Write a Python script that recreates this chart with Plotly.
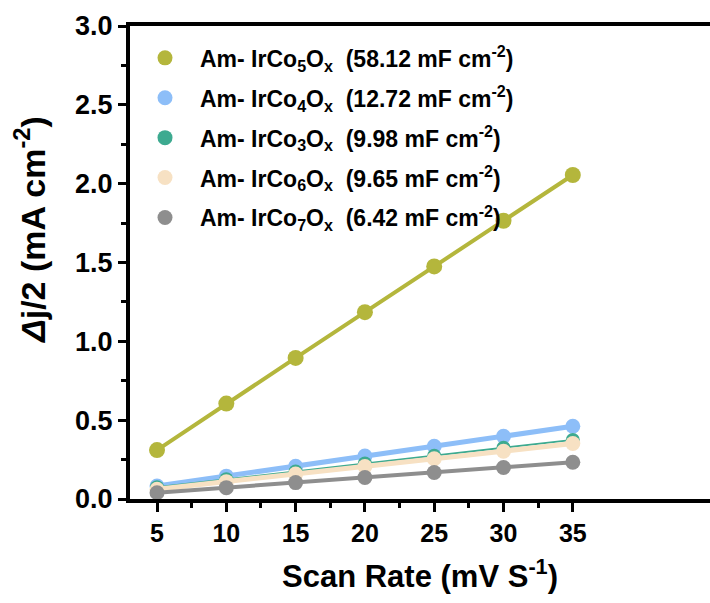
import plotly.graph_objects as go

# Scan rates (mV/s)
scan_rate = [5, 10, 15, 20, 25, 30, 35]

# Half of the capacitive current density difference (mA cm^-2)
irco5 = [0.31, 0.605, 0.895, 1.185, 1.475, 1.765, 2.055]
irco4 = [0.082, 0.145, 0.208, 0.272, 0.335, 0.398, 0.461]
irco3 = [0.075, 0.125, 0.175, 0.225, 0.275, 0.325, 0.375]
irco6 = [0.062, 0.110, 0.158, 0.206, 0.255, 0.303, 0.352]
irco7 = [0.040, 0.072, 0.104, 0.136, 0.168, 0.200, 0.233]

names = [
    "Am- IrCo<sub>5</sub>O<sub>x</sub>  (58.12 mF cm<sup>-2</sup>)",
    "Am- IrCo<sub>4</sub>O<sub>x</sub>  (12.72 mF cm<sup>-2</sup>)",
    "Am- IrCo<sub>3</sub>O<sub>x</sub>  (9.98 mF cm<sup>-2</sup>)",
    "Am- IrCo<sub>6</sub>O<sub>x</sub>  (9.65 mF cm<sup>-2</sup>)",
    "Am- IrCo<sub>7</sub>O<sub>x</sub>  (6.42 mF cm<sup>-2</sup>)",
]
series = [irco5, irco4, irco3, irco6, irco7]
colors = ["#B4B63C", "#8DBEF8", "#3DAA90", "#F7E1C3", "#8E8E8E"]
line_widths = [4, 5, 1.8, 5, 4]
marker_sizes = [16, 15, 14, 15, 15]

# minor x ticks halfway between the scan rates
minor_x = [(a + b) / 2 for a, b in zip(scan_rate[:-1], scan_rate[1:])]

FONT = "Liberation Sans, Arial, sans-serif"

fig = go.Figure()

for vals, color, lw, ms in zip(series, colors, line_widths, marker_sizes):
    fig.add_trace(go.Scatter(
        x=scan_rate, y=vals, mode="lines+markers",
        line=dict(color=color, width=lw),
        marker=dict(color=color, size=ms),
        showlegend=False, cliponaxis=False,
    ))

# Legend entries shown as plain dots
for i, (name, color) in enumerate(zip(names, colors)):
    fig.add_trace(go.Scatter(
        x=[None], y=[None], mode="markers", name=name,
        marker=dict(color=color, size=15),
        legendgroup=f"g{i}", showlegend=True,
    ))

fig.update_layout(
    width=710, height=603,
    margin=dict(l=130, r=0, t=26, b=104),
    plot_bgcolor="white", paper_bgcolor="white",
    font=dict(family=FONT, size=24, color="black", weight="bold"),
    showlegend=True,
    legend=dict(
        x=0.0, y=0.978, xanchor="left", yanchor="top",
        bgcolor="rgba(0,0,0,0)",
        font=dict(family=FONT, size=23, color="black", weight="bold"),
        itemwidth=60, tracegroupgap=7,
    ),
    xaxis=dict(
        range=[3.05, 44.9], tickmode="array", tickvals=scan_rate,
        showline=True, linecolor="black", linewidth=4, mirror=True,
        ticks="outside", ticklen=9, tickwidth=3, tickcolor="black",
        minor=dict(ticks="outside", ticklen=5, tickwidth=3,
                   tickcolor="black", tickmode="array", tickvals=minor_x,
                   showgrid=False),
        showgrid=False, zeroline=False,
        tickfont=dict(family=FONT, size=25, weight="bold"),
    ),
    yaxis=dict(
        range=[0, 3.0], dtick=0.5, tickformat=".1f",
        showline=True, linecolor="black", linewidth=4,
        ticks="outside", ticklen=8, tickwidth=3, tickcolor="black",
        minor=dict(ticks="outside", ticklen=5, tickwidth=3,
                   tickcolor="black", dtick=0.25, showgrid=False),
        showgrid=False, zeroline=False,
        tickfont=dict(family=FONT, size=27, weight="bold"),
    ),
    annotations=[
        dict(text="Scan Rate (mV S<sup>-1</sup>)", xref="paper", yref="paper",
             x=0.5, y=-0.159, xanchor="center", yanchor="middle",
             showarrow=False,
             font=dict(family=FONT, size=31, weight="bold")),
        dict(text="<i>Δ</i>j/2 (mA cm<sup>-2</sup>)", xref="paper", yref="paper",
             x=-0.172, y=0.569, xanchor="center", yanchor="middle",
             textangle=-90, showarrow=False,
             font=dict(family=FONT, size=34, weight="bold")),
    ],
)

fig.write_html("out.html")
